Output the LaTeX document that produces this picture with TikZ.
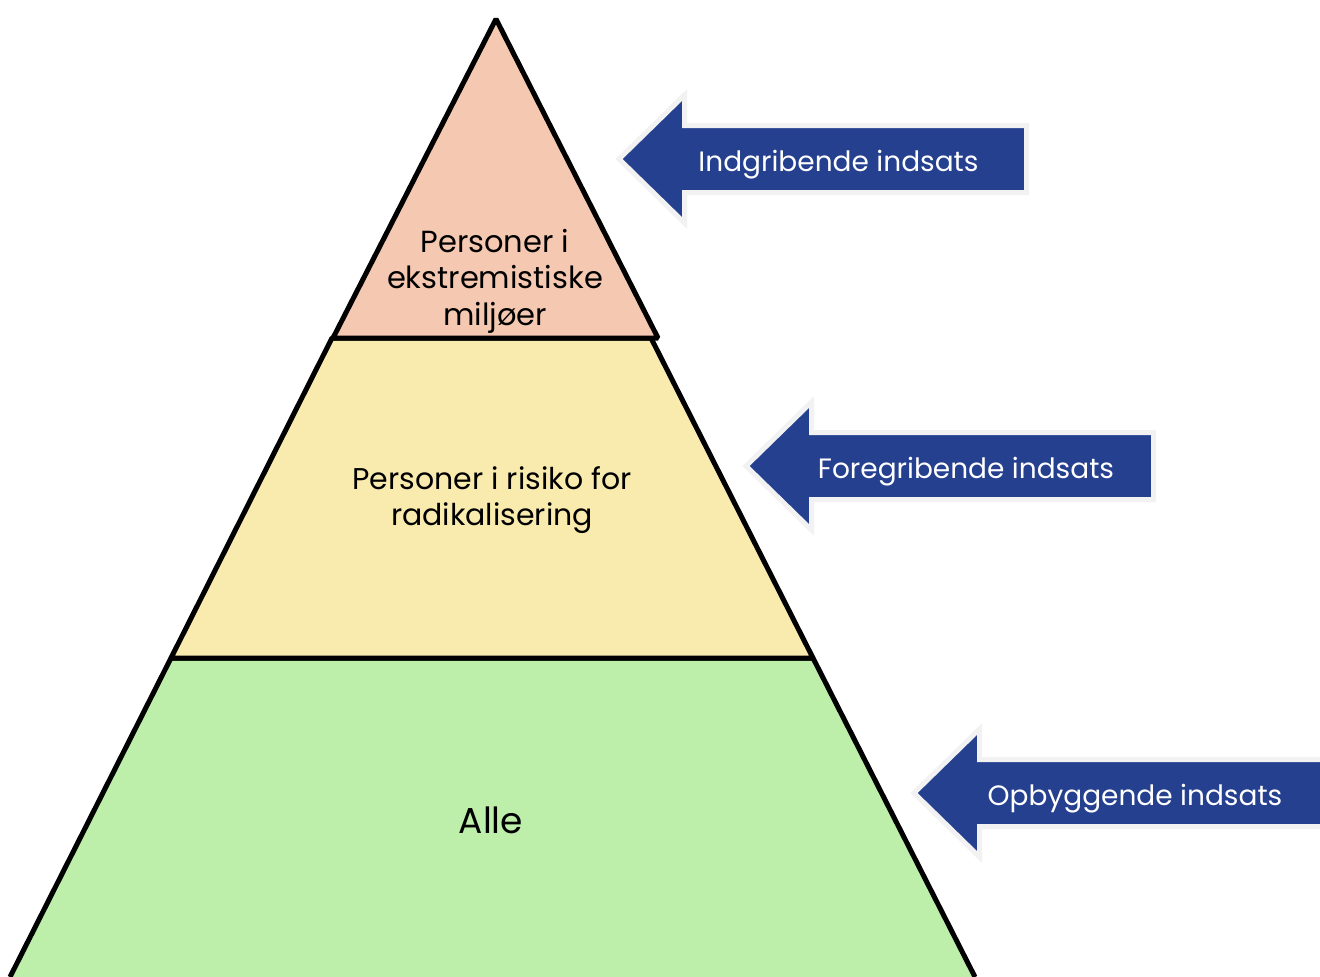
\documentclass[tikz,border=0pt]{standalone}
\usepackage{fontspec}
\setmainfont{Poppins}
\usepackage{xcolor}
\usetikzlibrary{positioning}

\definecolor{toppeach}{HTML}{F5C8B1}
\definecolor{midsand}{HTML}{F9EAAE}
\definecolor{lowgreen}{HTML}{BDEEAA}
\definecolor{arrowblue}{HTML}{25408F}
\definecolor{arrowrim}{HTML}{F2F2F2}

\begin{document}
\begin{tikzpicture}[x=1pt,y=-1pt]

% \draw[step=50,gray,very thin] (0,0) grid (1320,977);

\tikzstyle{layer} = [draw=black, line width=5pt, line join=bevel]
\tikzstyle{pointer} = [fill=arrowblue, draw=arrowrim, line width=5pt, line join=miter]
\tikzstyle{layertext} = [align=center, anchor=base, inner sep=0pt]
\tikzstyle{pointertext} = [text=white, anchor=base, inner sep=0pt, font=\fontsize{28}{32}\selectfont]

\useasboundingbox (0,0) rectangle (1320,977);

% pyramid, bottom to top
\fill [lowgreen] (171,658) -- (813,658) -- (975,977) -- (10,977) -- cycle;
\draw [layer] (10,977) -- (171,658) -- (813,658) -- (975,977);
\draw [layer, fill=midsand] (332,338) -- (651,338) -- (813,658) -- (171,658) -- cycle;
\draw [layer, fill=toppeach] (496,19) -- (658,338) -- (333,338) -- cycle;

% anchor=base sits on the last line
\node (top) [layertext, font=\fontsize{30.5}{36.5}\selectfont] at (495,325)
  {Personer i\\ekstremistiske\\milj\o er};
\node (mid) [layertext, font=\fontsize{30}{36}\selectfont] at (492,525)
  {Personer i risiko for\\radikalisering};
\node (all) [layertext, font=\fontsize{36}{44}\selectfont] at (491,833) {Alle};

% arrows
\draw [pointer] (619,159) -- ++(65.5,-64) -- ++(0,30.5) -- (1026.5,125.5)
  -- ++(0,67) -- (684.5,192.5) -- ++(0,30.5) -- cycle;
\draw [pointer] (746,466) -- ++(65.5,-64) -- ++(0,30.5) -- (1153.5,432.5)
  -- ++(0,67) -- (811.5,499.5) -- ++(0,30.5) -- cycle;
\draw [pointer] (914,793) -- ++(65.5,-64) -- ++(0,30.5) -- (1330,759.5)
  -- ++(0,67) -- (979.5,826.5) -- ++(0,30.5) -- cycle;

\node (strike) [pointertext] at (838.5,171) {Indgribende indsats};
\node (foresee) [pointertext] at (966,478) {Foregribende indsats};
\node (build) [pointertext] at (1135,805) {Opbyggende indsats};

\end{tikzpicture}
\end{document}
